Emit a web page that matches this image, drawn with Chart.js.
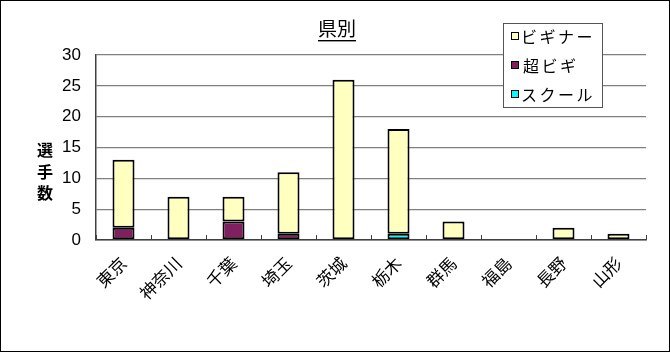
<!DOCTYPE html>
<html lang="ja">
<head>
  <meta charset="UTF-8" />
  <title>県別</title>
  <script src="https://cdn.jsdelivr.net/npm/chart.js"></script>
  <style>
    html, body { margin: 0; padding: 0; background: #fff; }
    .wrap { width: 670px; height: 352px; position: relative; }
  </style>
</head>
<body>
<div class="wrap">
  <canvas id="kenChart" width="670" height="352"></canvas>
</div>

<script>
// 県別データ
const prefectures = ['東京', '神奈川', '千葉', '埼玉', '茨城', '栃木', '群馬', '福島', '長野', '山形'];
const beginner      = [11, 7, 4, 10, 26, 17, 3, 0, 2, 1];
const superBeginner = [2, 0, 3, 1, 0, 0, 0, 0, 0, 0];
const school        = [0, 0, 0, 0, 0, 1, 0, 0, 0, 0];
const yMax = 30;
const yStep = 5;

const chartTitle = '県別';
const yTitle = ['選', '手', '数'];
const legendOrder = ['ビギナー', '超ビギ', 'スクール'];

const JP = "'Noto Sans CJK JP', 'Noto Sans', sans-serif";

// 0 の区間は枠線を描かないように null にする
const skipZero = arr => arr.map(v => (v === 0 ? null : v));

// タイトル・縦書き軸ラベル・凡例・枠線
const decor = {
  id: 'decor',
  afterDraw(chart) {
    const ctx = chart.ctx;
    const area = chart.chartArea;
    ctx.save();

    // 外枠
    ctx.strokeStyle = '#000';
    ctx.lineWidth = 1;
    ctx.strokeRect(0.5, 0.5, chart.width - 1, chart.height - 1);

    // x軸の目盛り（内向き）
    const xs = chart.scales.x;
    ctx.strokeStyle = '#404040';
    ctx.beginPath();
    for (let i = 0; i <= prefectures.length; i++) {
      const x = Math.round(xs.left + (xs.right - xs.left) * i / prefectures.length) + 0.5;
      ctx.moveTo(x, area.bottom - 5);
      ctx.lineTo(x, area.bottom);
    }
    ctx.stroke();

    // タイトル（下線付き）
    ctx.fillStyle = '#000';
    ctx.font = '19px ' + JP;
    ctx.textAlign = 'center';
    ctx.textBaseline = 'middle';
    const tx = 337;
    ctx.fillText(chartTitle, tx, 29);
    const tw = ctx.measureText(chartTitle).width;
    ctx.fillRect(tx - tw / 2, 40, tw, 1.4);

    // 縦書きの軸タイトル
    ctx.font = 'bold 16px ' + JP;
    yTitle.forEach((c, i) => ctx.fillText(c, 45, 150 + i * 21.5));

    // 凡例
    const box = { x: 503, y: 23, w: 99, h: 84 };
    ctx.fillStyle = '#fff';
    ctx.fillRect(box.x, box.y, box.w, box.h);
    ctx.strokeStyle = '#555';
    ctx.strokeRect(box.x + 0.5, box.y + 0.5, box.w, box.h);
    ctx.font = '16px ' + JP;
    ctx.textAlign = 'left';
    ctx.letterSpacing = '2.5px';
    legendOrder.forEach((name, i) => {
      const ds = chart.data.datasets.find(d => d.label === name);
      const y = 36 + i * 29;
      ctx.fillStyle = ds.backgroundColor;
      ctx.fillRect(511, y - 4, 8, 8);
      ctx.strokeStyle = '#000';
      ctx.strokeRect(511.5, y - 3.5, 7, 7);
      ctx.fillStyle = '#000';
      ctx.fillText(name, i === 1 ? 523 : 521, y + 1);
    });
    ctx.restore();
  }
};

const barStyle = {
  borderColor: '#000',
  borderWidth: 2,
  borderSkipped: false,
  barPercentage: 0.5,
  categoryPercentage: 0.8
};

new Chart(document.getElementById('kenChart'), {
  type: 'bar',
  data: {
    labels: prefectures,
    datasets: [
      { label: '超ビギ', data: skipZero(superBeginner), backgroundColor: '#802060', ...barStyle },
      { label: 'スクール', data: skipZero(school), backgroundColor: '#00FFFF', ...barStyle },
      { label: 'ビギナー', data: skipZero(beginner), backgroundColor: '#FFFFC0', ...barStyle }
    ]
  },
  options: {
    responsive: false,
    animation: false,
    layout: { padding: { left: 0, right: 24, top: 55, bottom: 0 } },
    plugins: {
      legend: { display: false },
      title: { display: false },
      tooltip: { enabled: false }
    },
    scales: {
      x: {
        stacked: true,
        grid: { display: false },
        border: { display: true, color: '#404040', width: 1.5 },
        ticks: {
          color: '#000',
          font: { family: JP, size: 17 },
          minRotation: 45,
          maxRotation: 45,
          padding: 5
        },
        afterFit(scale) { scale.height = 112; }
      },
      y: {
        stacked: true,
        min: 0,
        max: yMax,
        grid: { color: '#808080', lineWidth: 1.3, drawTicks: false },
        border: { display: true, color: '#404040', width: 1.5 },
        ticks: {
          stepSize: yStep,
          color: '#000',
          font: { family: "'Liberation Sans', Arial, sans-serif", size: 17 },
          padding: 15
        },
        afterFit(scale) { scale.width = 96; }
      }
    }
  },
  plugins: [decor]
});
</script>
</body>
</html>
